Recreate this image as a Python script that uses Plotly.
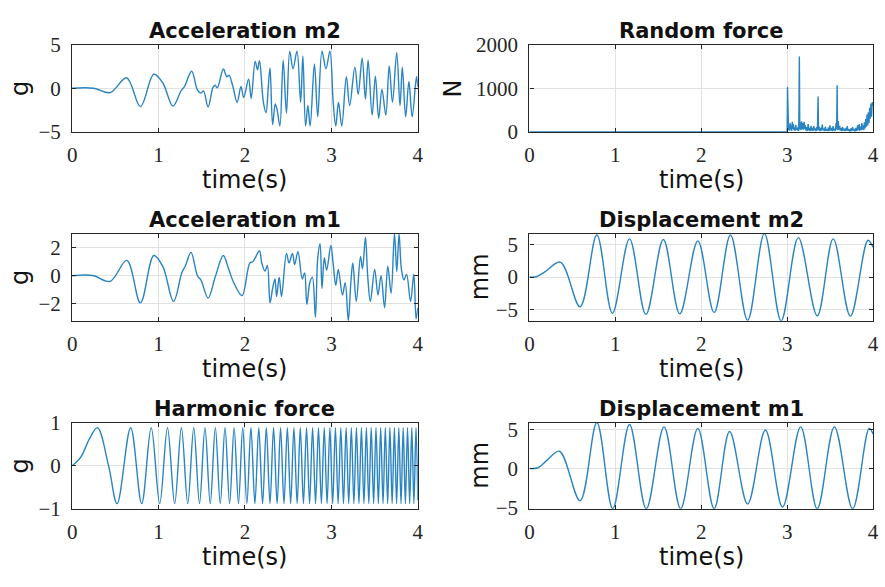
import plotly.graph_objects as go

# ---------------- data (time in s) ----------------
acc_m2_t = [0, 0.25, 0.44, 0.63, 0.79, 0.945, 1.05, 1.166, 1.26, 1.30, 1.383, 1.45, 1.49, 1.52,
            1.573, 1.63, 1.655, 1.68, 1.75, 1.79, 1.815, 1.86, 1.909, 1.954, 1.985, 2.042,
            2.072, 2.118, 2.145, 2.168, 2.213, 2.244, 2.270, 2.290, 2.320, 2.350, 2.373,
            2.404, 2.442, 2.480, 2.518, 2.556, 2.602, 2.644, 2.670, 2.701, 2.728, 2.754,
            2.804, 2.842, 2.891, 2.937, 2.983, 3.021, 3.051, 3.082, 3.120, 3.173, 3.211,
            3.272, 3.310, 3.356, 3.394, 3.425, 3.471, 3.509, 3.547, 3.585, 3.630, 3.669,
            3.707, 3.756, 3.794, 3.821, 3.859, 3.897, 3.935, 3.985, 4.0]
acc_m2_v = [0, 0.0, -0.5, 1.2, -2.1, 1.6, 0.6, -2.05, -0.3, 0.2, 1.95, -0.2, -0.55, -0.3,
            -2.15, 0.1, 0.35, 0.05, 2.2, 1.3, 1.5, 0.2, -1.6, 0.22, -1.06, 1.03,
            -1.17, 3.08, 2.12, 3.15, -1.61, -2.78, 0.22, 2.34, -4.18, -1.80, -2.53,
            -4.32, 3.22, -2.86, 4.25, 2.23, 4.25, -1.61, 3.7, -4.32, -1.98, -4.32,
            2.78, -3.27, 4.25, 2.23, 4.25, -1.61, -4.32, -1.61, -4.32, 1.32, -1.98,
            2.42, -0.70, 3.44, -1.24, 3.22, -3.07, 1.39, -3.45, -0.15, -3.07, 2.56,
            -1.61, 4.07, -1.98, 2.42, -3.27, 0.77, -3.27, 1.32, 0.15]

acc_m1_t = [0, 0.15, 0.25, 0.44, 0.632, 0.79, 0.945, 1.05, 1.173, 1.27, 1.31, 1.375, 1.45,
            1.49, 1.573, 1.66, 1.749, 1.81, 1.87, 1.966, 2.056, 2.09, 2.12, 2.168, 2.194,
            2.232, 2.259, 2.290, 2.32, 2.347, 2.366, 2.396, 2.423, 2.480, 2.510, 2.549,
            2.575, 2.613, 2.663, 2.69, 2.716, 2.75, 2.78, 2.815, 2.842, 2.869, 2.891,
            2.918, 2.945, 2.994, 3.02, 3.051, 3.08, 3.128, 3.16, 3.196, 3.225, 3.248,
            3.288, 3.337, 3.36, 3.394, 3.42, 3.451, 3.501, 3.539, 3.575, 3.615, 3.653,
            3.691, 3.73, 3.757, 3.783, 3.81, 3.84, 3.87, 3.916, 3.954, 3.98, 4.0]
acc_m1_v = [0, 0.05, 0.0, -0.4, 1.1, -1.95, 1.45, 0.65, -1.84, 0.23, 0.7, 1.68, 0.0,
            -0.3, -1.6, 0.0, 1.45, 0.5, -0.5, -1.43, 0.92, 1.0, 1.3, 1.79, 0.92,
            0.34, 0.74, -1.95, -0.9, -0.23, -1.49, -0.1, -1.49, 1.61, 0.92, 1.61,
            0.8, 1.72, -0.23, 0.2, -2.07, -0.5, -0.1, -2.99, 1.26, 2.30, -0.92,
            1.29, 0.4, 2.18, 0.9, -0.69, 0.45, -1.38, -0.5, -3.24, -0.5, 0.92,
            -1.84, 1.38, 0.5, 2.76, 0.0, -1.84, 0.46, -1.38, 0.0, -2.30, 0.69,
            -1.26, 3.03, 0.3, 3.0, 0.5, -0.3, 0.1, -1.84, 0.11, -3.1, -2.3]

harm_t = [0, 0.1, 0.2, 0.2925, 0.4213, 0.5201, 0.6769, 0.8044, 0.9147, 1.0132, 1.1031,
          1.1864, 1.2642, 1.3376, 1.4072, 1.4736, 1.5372, 1.5982, 1.6571, 1.7139, 1.7689,
          1.8223, 1.8742, 1.9247, 1.9739, 2.0220, 2.0689, 2.1148, 2.1597, 2.2037, 2.2469,
          2.2893, 2.3309, 2.3717, 2.4119, 2.4514, 2.4904, 2.5287, 2.5664, 2.6037, 2.6403,
          2.6765, 2.7122, 2.7475, 2.7823, 2.8166, 2.8506, 2.8842, 2.9173, 2.9502, 2.9826,
          3.0147, 3.0465, 3.0779, 3.1091, 3.1399, 3.1704, 3.2007, 3.2306, 3.2603, 3.2897,
          3.3189, 3.3477, 3.3764, 3.4048, 3.4330, 3.4610, 3.4887, 3.5162, 3.5435, 3.5706,
          3.5975, 3.6242, 3.6507, 3.6770, 3.7031, 3.7291, 3.7548, 3.7804, 3.8058, 3.8311,
          3.8561, 3.8811, 3.9058, 3.9304, 3.9549, 3.9792, 4.0]
harm_v = [0, 0.2, 0.62, 0.88, 0.0, -0.88, 0.88, -0.88, 0.88, -0.88, 0.88,
          -0.88, 0.88, -0.88, 0.88, -0.88, 0.88, -0.88, 0.88, -0.88, 0.88,
          -0.88, 0.88, -0.88, 0.88, -0.88, 0.88, -0.88, 0.88, -0.88, 0.88,
          -0.88, 0.88, -0.88, 0.88, -0.88, 0.88, -0.88, 0.88, -0.88, 0.88,
          -0.88, 0.88, -0.88, 0.88, -0.88, 0.88, -0.88, 0.88, -0.88, 0.88,
          -0.88, 0.88, -0.88, 0.88, -0.88, 0.88, -0.88, 0.88, -0.88, 0.88,
          -0.88, 0.88, -0.88, 0.88, -0.88, 0.88, -0.88, 0.88, -0.88, 0.88,
          -0.88, 0.88, -0.88, 0.88, -0.88, 0.88, -0.88, 0.88, -0.88, 0.88,
          -0.88, 0.88, -0.88, 0.88, -0.88, 0.88, -0.80]

rand_t = [0, 3.0, 3.004, 3.008, 3.011, 3.016, 3.022, 3.028, 3.035, 3.04, 3.047, 3.052, 3.06,
          3.066, 3.072, 3.078, 3.085, 3.09, 3.1, 3.107, 3.115, 3.122, 3.128, 3.135, 3.142,
          3.147, 3.155, 3.16, 3.168, 3.175, 3.182, 3.19, 3.198, 3.205, 3.212, 3.22, 3.228,
          3.235, 3.245, 3.25, 3.26, 3.268, 3.278, 3.285, 3.295, 3.302, 3.31, 3.318, 3.325,
          3.335, 3.345, 3.352, 3.36, 3.365, 3.372, 3.38, 3.39, 3.398, 3.41, 3.415, 3.425,
          3.435, 3.445, 3.452, 3.46, 3.47, 3.48, 3.488, 3.498, 3.505, 3.515, 3.525, 3.535,
          3.542, 3.55, 3.56, 3.57, 3.576, 3.582, 3.587, 3.595, 3.6, 3.61, 3.618, 3.628,
          3.636, 3.645, 3.655, 3.665, 3.675, 3.685, 3.692, 3.7, 3.708, 3.72, 3.73, 3.74,
          3.75, 3.762, 3.77, 3.78, 3.79, 3.8, 3.81, 3.82, 3.828, 3.838, 3.845, 3.855,
          3.862, 3.87, 3.878, 3.885, 3.892, 3.9, 3.907, 3.915, 3.922, 3.93, 3.937, 3.945,
          3.952, 3.96, 3.967, 3.975, 3.982, 3.99, 4.0]
rand_v = [0, 0, 1030, 120, 700, 40, 110, 30, 200, 60, 150, 20, 230,
          70, 180, 40, 100, 20, 160, 50, 90, 30, 120, 20, 1730,
          60, 220, 40, 240, 60, 200, 50, 230, 70, 150, 30, 110,
          20, 180, 40, 90, 20, 140, 30, 100, 20, 130, 40, 80,
          20, 110, 30, 810, 40, 120, 20, 90, 30, 170, 40, 80,
          20, 120, 30, 60, 20, 100, 20, 150, 30, 90, 20, 130,
          30, 70, 20, 200, 60, 1070, 40, 250, 50, 140, 30, 90,
          20, 110, 30, 70, 20, 90, 30, 130, 20, 60, 10, 80,
          20, 110, 30, 50, 10, 90, 20, 150, 40, 180, 30, 120,
          40, 200, 60, 150, 40, 220, 80, 300, 120, 400, 150, 450,
          200, 550, 300, 650, 350, 680, 600]

disp_m2_t = [0, 0.08, 0.18, 0.36, 0.59, 0.785, 0.966, 1.165, 1.356, 1.559, 1.75, 1.96,
             2.15, 2.34, 2.54, 2.735, 2.93, 3.13, 3.35, 3.536, 3.736, 3.94, 4.0]
disp_m2_v = [0, 0.05, 0.8, 2.3, -4.6, 6.5, -5.6, 5.9, -5.8, 5.8, -5.7, 5.6,
             -5.5, 6.5, -6.7, 6.73, -6.78, 6.1, -6.0, 5.9, -6.05, 5.7, 4.6]

disp_m1_t = [0, 0.1, 0.2, 0.35, 0.59, 0.785, 0.97, 1.165, 1.36, 1.567, 1.76, 1.96, 2.15,
             2.33, 2.54, 2.747, 2.946, 3.157, 3.35, 3.55, 3.762, 3.954, 4.0]
disp_m1_v = [0, 0.1, 1.0, 2.2, -4.1, 5.85, -5.1, 5.6, -5.12, 5.3, -5.1, 5.1, -5.1,
             4.7, -4.5, 4.9, -4.9, 5.3, -5.1, 5.3, -5.12, 5.1, 4.4]

time_ticks = [0, 1, 2, 3, 4]
time_labels = ["0", "1", "2", "3", "4"]

# ---------------- layout helpers ----------------
W, H = 885, 587
LINE = "#2a84c2"
INK = "#262626"


def fx(px):
    return px / W


def fy(px):
    return 1 - px / H


cols = [(68, 418), (531, 879)]
rows = [(34, 125), (231, 322), (428, 518)]

panels = [
    (0, 0, "Acceleration m2", "g", acc_m2_t, acc_m2_v, [-5, 5], [-5, 0, 5], ["−5", "0", "5"], True),
    (0, 1, "Random force", "N", rand_t, rand_v, [0, 2000], [0, 1000, 2000], ["0", "1000", "2000"], False),
    (1, 0, "Acceleration m1", "g", acc_m1_t, acc_m1_v, None, [-2, 0, 2], ["−2", "0", "2"], True),
    (1, 1, "Displacement m2", "mm", disp_m2_t, disp_m2_v, None, [-5, 0, 5], ["−5", "0", "5"], True),
    (2, 0, "Harmonic force", "g", harm_t, harm_v, [-1, 1], [-1, 0, 1], ["−1", "0", "1"], True),
    (2, 1, "Displacement m1", "mm", disp_m1_t, disp_m1_v, None, [-5, 0, 5], ["−5", "0", "5"], True),
]

fig = go.Figure()
annotations = []
axis_common = dict(
    showline=True, linecolor=INK, linewidth=1.3, mirror="ticks",
    ticks="inside", ticklen=4, tickcolor=INK, tickwidth=1,
    showgrid=True, gridcolor="#e2e2e2", gridwidth=1, zeroline=False,
    tickfont=dict(family="Liberation Serif", size=21, color=INK),
)

ylabel_x = {"g": 15, "N": 454, "mm": 481}

for i, (r, c, title, ylab, t, v, yr, yt, ytxt, smooth) in enumerate(panels, start=1):
    xa = "x" if i == 1 else f"x{i}"
    ya = "y" if i == 1 else f"y{i}"
    line = dict(color=LINE, width=1.4)
    if smooth:
        line.update(shape="spline", smoothing=1)
    fig.add_trace(go.Scatter(x=t, y=v, mode="lines", line=line, xaxis=xa, yaxis=ya,
                             showlegend=False, hoverinfo="skip"))
    x0, x1 = cols[c]
    y0, y1 = rows[r]
    rng = yr if yr is not None else [min(v), max(v)]
    fig.layout[f"xaxis{'' if i == 1 else i}"] = dict(
        domain=[fx(x0), fx(x1)], anchor=ya, range=[0, 4],
        tickvals=time_ticks, ticktext=time_labels, ticklabelstandoff=4, **axis_common)
    fig.layout[f"yaxis{'' if i == 1 else i}"] = dict(
        domain=[fy(y1), fy(y0)], anchor=xa, range=rng,
        tickvals=yt, ticktext=ytxt, ticklabelstandoff=6, **axis_common)

    cx = (x0 + x1) / 2
    annotations.append(dict(
        text=f"<b>{title}</b>", x=fx(cx), y=fy(y0 - 14), xref="paper", yref="paper",
        xanchor="center", yanchor="middle", showarrow=False,
        font=dict(family="DejaVu Sans", size=21, color="#111111")))
    annotations.append(dict(
        text="time(s)", x=fx(cx), y=fy(y1 + 50), xref="paper", yref="paper",
        xanchor="center", yanchor="middle", showarrow=False,
        font=dict(family="DejaVu Sans", size=24, color="#111111")))
    annotations.append(dict(
        text=ylab, x=fx(ylabel_x[ylab]), y=fy((y0 + y1) / 2), xref="paper", yref="paper",
        xanchor="center", yanchor="middle", showarrow=False, textangle=-90,
        font=dict(family="DejaVu Sans", size=24, color="#111111")))

fig.update_layout(
    width=W, height=H, margin=dict(l=0, r=0, t=0, b=0),
    paper_bgcolor="white", plot_bgcolor="white",
    annotations=annotations,
)

fig.write_html("out.html")
